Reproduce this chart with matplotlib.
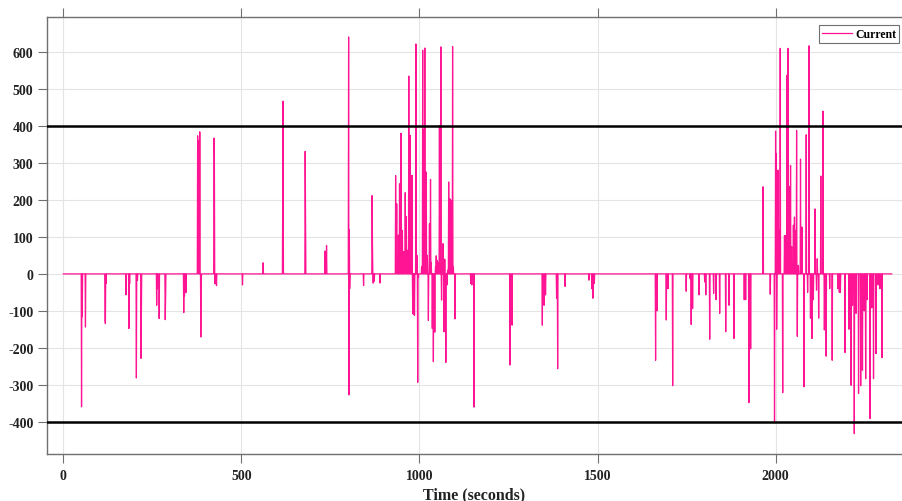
import numpy as np
import matplotlib
matplotlib.use("Agg")
import matplotlib.pyplot as plt

# Recording length (s) and the samples where the current leaves zero
duration = 2326
spike_time = [
    51, 53, 62, 117, 118, 120, 176, 184, 186, 205, 208, 218, 219, 262, 264, 269,
    286, 287, 338, 340, 344, 377, 378, 380, 383, 386, 387, 423, 424, 426, 428,
    430, 503, 561, 616, 617, 679, 680, 735, 739, 801, 802, 803, 804, 843, 867,
    868, 870, 873, 889,
    933, 934, 936, 938, 941, 944, 946, 948, 950, 952, 954, 956, 958, 960, 961,
    963, 966, 968, 970, 972, 974, 976, 979, 981, 983, 986, 988, 990, 993, 995,
    997, 1006, 1009, 1011, 1013, 1015, 1017, 1019, 1022, 1025, 1028, 1031, 1033,
    1036, 1039, 1043, 1045, 1047, 1049, 1051, 1053, 1056, 1058, 1060, 1062,
    1064, 1066, 1069, 1071, 1074, 1077, 1079, 1082, 1085, 1088, 1090, 1093,
    1095, 1100, 1144, 1147, 1150, 1153,
    1254, 1260, 1345, 1350, 1354, 1385, 1388, 1409, 1476, 1484, 1487, 1491,
    1663, 1667, 1693, 1698, 1711, 1749, 1760, 1763, 1767, 1785, 1801, 1804,
    1815, 1826, 1833, 1843, 1860, 1869, 1883, 1912, 1916, 1925, 1930,
    1965, 1985, 1997, 2000, 2002, 2003, 2007, 2010, 2013, 2020, 2025, 2028,
    2032, 2035, 2039, 2042, 2045, 2050, 2053, 2057, 2059, 2061, 2064, 2070,
    2074, 2080, 2086, 2090, 2094, 2098, 2102, 2106, 2111, 2115, 2117, 2121,
    2127, 2133, 2137, 2142, 2152, 2159, 2175, 2179, 2182, 2195, 2206, 2212,
    2216, 2221, 2226, 2233, 2239, 2244, 2249, 2253, 2257, 2265, 2270, 2275,
    2282, 2288, 2293, 2299,
]
spike_current = [
    -360, -116, -144, -128, -135, -26, -57, -148, -27, -282, -17, -229, -99, -85, -40, -121,
    -124, -71, -105, -60, -51, 374, 150, 360, 385, -171, -30, 368, 320, -27, -20,
    -32, -30, 30, 250, 468, 332, 140, 62, 77, 642, -328, 120, -40, -32, 212,
    80, -25, -20, -25,
    266, 40, 190, 20, 105, 244, 60, 381, 10, 118, 20, 60, 10, 220, 40,
    155, 64, 10, 536, 60, 375, 136, 267, -107, -110, -113, 0, 623, 50, -294,
    -10, 20, 606, 390, 200, 612, 200, 276, 50, -126, 136, 256, 30,
    -148, -238, -158, 20, 49, 37, 10, 30, 402, 120, 615, -71,
    20, 82, -157, 40, -240, -30, 10, 249, 204, 200, 50, 616,
    20, -122, -26, -30, -15, -361,
    -247, -139, -139, -85, -57, -66, -257, -34, -17, -40, -66, -26,
    -234, -100, -125, -40, -303, -47, -13, -137, -94, -57, -22, -57,
    -177, -53, -70, -107, -157, -85, -175, -70, -70, -349, -203,
    236, -55, -404, 387, 326, -150, 281, 120, 611, -322, 104, 104,
    538, 611, 236, 294, 74, 132, 154, 118, 389, -169, 23, 311,
    127, -306, 377, -50, 618, -120, -175, -70, 176, -44, 41, -120,
    265, 441, -152, -223, -40, -234, -40, -50, -50, -213, -150, -302,
    -85, -433, -107, -324, -303, -261, -100, -284, -70, -392, -92, -284,
    -216, -30, -40, -227,
]
limit_upper = 400
limit_lower = -400

x_ticks = [0, 500, 1000, 1500, 2000]
y_ticks = [-400, -300, -200, -100, 0, 100, 200, 300, 400, 500, 600]

time = np.arange(0, duration + 1)
current = np.zeros(time.size)
current[np.array(spike_time)] = spike_current

plt.rcParams["font.family"] = ["Liberation Serif", "DejaVu Serif"]
plt.rcParams["font.weight"] = "bold"
plt.rcParams["axes.unicode_minus"] = False

fig = plt.figure(figsize=(9.02, 5.02), dpi=100)
ax = fig.add_axes([47 / 902, 47 / 502, 1 - 47 / 902, (455 - 18) / 502])

ax.plot(time, current, color="#ff1493", lw=0.9, label="Current", zorder=3)
ax.axhline(limit_upper, color="black", lw=1.8, zorder=4)
ax.axhline(limit_lower, color="black", lw=1.8, zorder=4)

ax.set_xlim(-46, 2355)
ax.set_ylim(-488, 696)
ax.set_xticks(x_ticks)
ax.set_yticks(y_ticks)
ax.grid(True, color="#e4e4e4", lw=0.8, zorder=0)
ax.set_axisbelow(True)

for side in ["left", "bottom", "top"]:
    ax.spines[side].set_color("#707070")
    ax.spines[side].set_linewidth(1.0)
ax.spines["right"].set_visible(False)

ax.tick_params(axis="both", direction="out", length=6.3, width=0.8,
               color="#707070", labelsize=10, labelcolor="#222222")
ax.tick_params(axis="x", top=True, pad=4.5)
ax.tick_params(axis="y", pad=3.5)
for lab in ax.get_xticklabels() + ax.get_yticklabels():
    lab.set_fontweight("bold")

ax.set_xlabel("Time (seconds)", fontsize=11.5, fontweight="bold",
              color="#222222", labelpad=3)

leg = ax.legend(loc="upper right", bbox_to_anchor=(1 - 3 / 855, 1 - 8 / 437),
                borderaxespad=0, fancybox=False, framealpha=1,
                edgecolor="#707070", prop={"size": 8.5, "weight": "bold"},
                handlelength=2.5, handletextpad=0.3, borderpad=0.25)
leg.get_frame().set_linewidth(0.8)

fig.savefig("out.png", dpi=100)
